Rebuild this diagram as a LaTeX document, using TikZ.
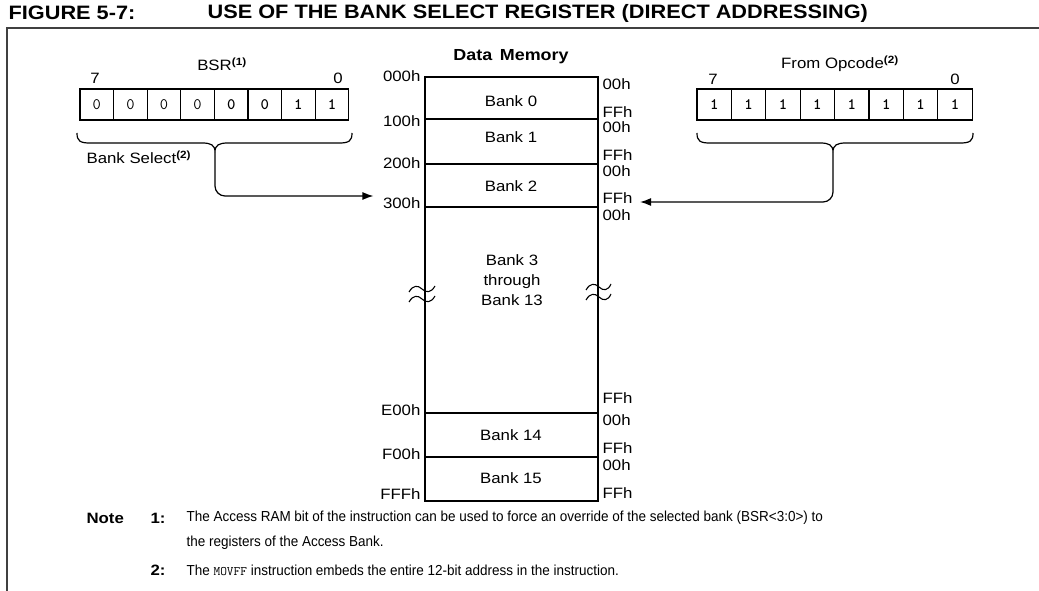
\documentclass[tikz,border=0pt]{standalone}
\usepackage{fontspec}
\setmainfont{Liberation Sans}[FakeStretch=1.12]
\newfontfamily\notesans{Liberation Sans}[FakeStretch=0.93]
\usetikzlibrary{arrows.meta}

\begin{document}
\begin{tikzpicture}[x=1pt,y=-1pt,
  line width=1.2pt,
  txt/.style={inner sep=0pt, font=\fontsize{15}{18}\selectfont},
  addr/.style={txt, anchor=east},
  offs/.style={txt, anchor=west},
  bankname/.style={txt, align=center},
  bit/.style={draw, line width=1.2pt, minimum height=31pt, inner sep=0pt,
              font=\ttfamily\fontsize{16}{16}\selectfont},
  boldbit/.style={bit, font=\ttfamily\bfseries\fontsize{16}{16}\selectfont},
  frameline/.style={line width=1.8pt, black!75},
  conn/.style={line width=1.2pt, rounded corners=10pt,
               -{Latex[length=11pt,width=8pt]}},
  notetxt/.style={inner sep=0pt, anchor=west, font=\notesans\fontsize{14.5}{16}\selectfont},
  notenum/.style={inner sep=0pt, anchor=west, font=\bfseries\fontsize{15}{16}\selectfont}]
\useasboundingbox (0,0) rectangle (1039,591);

% heading and frame
\node[inner sep=0pt, anchor=west, font=\bfseries\fontsize{19.4}{22}\selectfont] (fig) at (8,13) {FIGURE 5-7:};
\node[inner sep=0pt, anchor=west, font=\bfseries\fontsize{19.4}{22}\selectfont] (ttl) at (207,13) {USE OF THE BANK SELECT REGISTER (DIRECT ADDRESSING)};
\draw[frameline] (7,591) -- (7,28) -- (1039,28);

% BSR register
\node[txt] (bsrlbl) at (222,64) {BSR\textsuperscript{\bfseries(1)}};
\node[txt] (bsr7) at (95,78) {7};
\node[txt] (bsr0) at (338,78) {0};
\foreach \v [count=\i from 0] in {0,0,0,0}
  \node[bit, minimum width=33.6pt] (b\i) at ({96.8+33.6*\i},104.5) {\v};
\foreach \v [count=\i from 4] in {0,0,1,1}
  \node[boldbit, minimum width=33.6pt] (b\i) at ({96.8+33.6*\i},104.5) {\v};
\draw (77,133) .. controls (77,141) and (80,143) .. (90,143) -- (202,143)
      .. controls (211,143) and (215,145) .. (215,152)
      .. controls (215,145) and (219,143) .. (228,143) -- (339,143)
      .. controls (349,143) and (352,141) .. (352,133);
\coordinate (bsrtip) at (215,152);
\node[txt, anchor=west] (bsel) at (86,157) {Bank Select\textsuperscript{\bfseries(2)}};

% opcode field
\node[txt] (oplbl) at (840,64) {From Opcode\textsuperscript{\bfseries(2)}};
\node[txt] (op7) at (713,79) {7};
\node[txt] (op0) at (955,79) {0};
\foreach \v [count=\i from 0] in {1,1,1,1,1,1,1,1}
  \node[boldbit, minimum width=34.4pt] (o\i) at ({714.2+34.4*\i},104.5) {\v};
\draw (697,133) .. controls (697,141) and (700,143) .. (710,143) -- (820,143)
      .. controls (829,143) and (833,145) .. (833,152)
      .. controls (833,145) and (837,143) .. (846,143) -- (960,143)
      .. controls (970,143) and (973,141) .. (973,133);
\coordinate (optip) at (833,152);

% data memory map
\node[inner sep=0pt, font=\bfseries\fontsize{16}{18}\selectfont] (dmtitle) at (511,57) {Data\, Memory};
\draw (425,77) rectangle (598,501);
\foreach \y in {119,164,207,413,457} \draw (425,\y) -- (598,\y);

\node[bankname] (bk0) at (511,101) {Bank 0};
\node[bankname] (bk1) at (511,137) {Bank 1};
\node[bankname] (bk2) at (511,186) {Bank 2};
\node[bankname, font=\fontsize{15}{20}\selectfont] (bk3) at (512,280) {Bank 3\\through\\Bank 13};
\node[bankname] (bk14) at (511,435) {Bank 14};
\node[bankname] (bk15) at (511,478) {Bank 15};

% bank base addresses
\node[addr] (a000) at (421,76) {000h};
\node[addr] (a100) at (421,121) {100h};
\node[addr] (a200) at (421,163) {200h};
\node[addr] (a300) at (421,203) {300h};
\node[addr] (ae00) at (421,410) {E00h};
\node[addr] (af00) at (421,454) {F00h};
\node[addr] (afff) at (421,494) {FFFh};

% offsets inside each bank
\node[offs] (r0a) at (602,84) {00h};
\node[offs] (r0b) at (602,112) {FFh};
\node[offs] (r1a) at (602,127) {00h};
\node[offs] (r1b) at (602,155) {FFh};
\node[offs] (r2a) at (602,171) {00h};
\node[offs] (r2b) at (602,198) {FFh};
\node[offs] (r3a) at (602,215) {00h};
\node[offs] (r3b) at (602,398) {FFh};
\node[offs] (r14a) at (602,420) {00h};
\node[offs] (r14b) at (602,448) {FFh};
\node[offs] (r15a) at (602,465) {00h};
\node[offs] (r15b) at (602,493) {FFh};

% break marks on the long bank
\foreach \yy in {289,299}
  \draw[line width=1.1pt] (409,\yy+3) .. controls (413,\yy-4) and (418,\yy-4) .. (422,\yy)
        .. controls (426,\yy+4) and (431,\yy+4) .. (435,\yy-3);
\foreach \yy in {287,297}
  \draw[line width=1.1pt] (586,\yy+3) .. controls (590,\yy-4) and (595,\yy-4) .. (599,\yy)
        .. controls (603,\yy+4) and (608,\yy+4) .. (611,\yy-3);

% address paths
\draw[conn] (bsrtip) |- ([xshift=-9pt,yshift=7pt]a300.west);
\draw[conn] (optip) |- ([xshift=7pt,yshift=-4pt]r2b.east);

% notes
\node[notenum] (nlbl) at (86,518) {Note};
\node[notenum] (n1) at (150,518) {1:};
\node[notetxt] (n1a) at (186,518) {The Access RAM bit of the instruction can be used to force an override of the selected bank (BSR<3:0>) to};
\node[notetxt] (n1b) at (186,543) {the registers of the Access Bank.};
\node[notenum] (n2) at (150,570) {2:};
\node[notetxt] (n2a) at (186,570) {The {\ttfamily\fontsize{13}{16}\selectfont MOVFF} instruction embeds the entire 12-bit address in the instruction.};
\end{tikzpicture}
\end{document}
